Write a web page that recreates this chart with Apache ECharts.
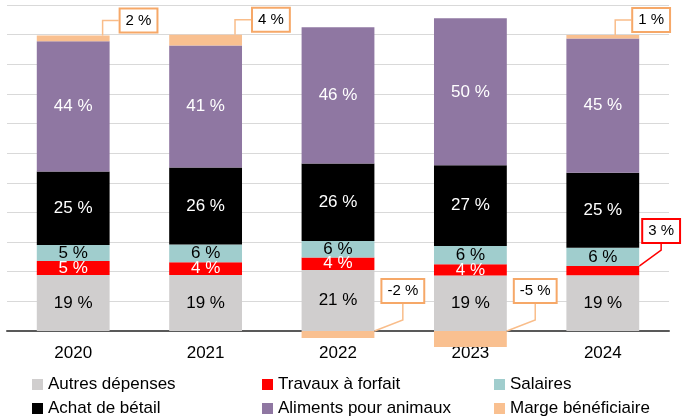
<!DOCTYPE html>
<html lang="fr">
<head>
  <meta charset="UTF-8" />
  <title>Structure des coûts</title>
  <script src="https://cdn.jsdelivr.net/npm/echarts@6/dist/echarts.min.js"></script>
  <style>
    body { margin: 0; background: #fff; }
    #chart { width: 686px; height: 417px; }
  </style>
</head>
<body>
  <div id="chart"></div>
  <script>
    // years and shares (%) per cost item, bottom to top of the stack
    const years = ['2020', '2021', '2022', '2023', '2024'];
    const autresDepenses = [18.9, 18.9, 20.6, 18.7, 18.8];
    const travauxForfait = [4.7, 4.3, 4.2, 3.8, 3.1];
    const salaires = [5.4, 6.0, 5.6, 6.2, 6.2];
    const achatBetail = [24.8, 26.0, 26.1, 27.2, 25.3];
    const alimentsAnimaux = [44.0, 41.1, 46.0, 49.6, 45.3];
    const margeBeneficiaire = [1.9, 3.7, -2.4, -5.4, 1.2];

    const FONT = "'Liberation Sans', Arial, sans-serif";
    const chart = echarts.init(document.getElementById('chart'));

    const pct = p => Math.round(p.value) + ' %';

    function callout(color) {
      return {
        show: true,
        formatter: pct,
        fontFamily: FONT,
        fontSize: 15,
        color: '#000',
        backgroundColor: '#fff',
        borderColor: color,
        borderWidth: 2,
        padding: [4, 5, 3, 5]
      };
    }

    // place callout boxes next to the bar segment
    function calloutLayout(params) {
      const r = params.rect;
      const top = Math.min(r.y, r.y + r.height);
      const right = r.x + r.width;
      const w = params.labelRect.width;
      if (params.seriesIndex === 5) {
        const v = margeBeneficiaire[params.dataIndex];
        if (v < 0) {
          return { x: right + 8, y: top - 40, align: 'left', verticalAlign: 'middle' };
        }
        const x = right + 11 + w > chart.getWidth() - 12 ? right - 6 : right + 11;
        return { x: x, y: top - 15, align: 'left', verticalAlign: 'middle' };
      }
      if (params.seriesIndex === 1 && travauxForfait[params.dataIndex] < 3.5) {
        return { x: right + 4, y: top - 35, align: 'left', verticalAlign: 'middle' };
      }
      return {};
    }

    function inside(color) {
      return { show: true, position: 'inside', formatter: pct, color: color, fontFamily: FONT, fontSize: 17 };
    }

    const series = [
      { name: 'Autres dépenses', color: '#D0CECE', data: autresDepenses, label: inside('#000') },
      {
        name: 'Travaux à forfait', color: '#FF0000', label: inside('#fff'),
        data: travauxForfait.map(v => v < 3.5
          ? { value: v, label: callout('#FF0000'), labelLine: { show: true, length2: 6, lineStyle: { color: '#FF0000', width: 1.5 } } }
          : v)
      },
      { name: 'Salaires', color: '#A0CDCD', data: salaires, label: inside('#000') },
      { name: 'Achat de bétail', color: '#000000', data: achatBetail, label: inside('#fff') },
      { name: 'Aliments pour animaux', color: '#8F77A2', data: alimentsAnimaux, label: inside('#fff') },
      {
        name: 'Marge bénéficiaire', color: '#F9C090', data: margeBeneficiaire,
        label: callout('#F6A868'),
        labelLine: { show: true, length2: 16, lineStyle: { color: '#F9BD8A', width: 1.5 } }
      }
    ].map(s => Object.assign({
      type: 'bar',
      stack: 'total',
      barWidth: '55%',
      clip: false,
      itemStyle: { color: s.color },
      labelLayout: calloutLayout
    }, s));

    // legend: 3 columns x 2 rows
    const legendNames = [
      'Autres dépenses', 'Travaux à forfait', 'Salaires',
      'Achat de bétail', 'Aliments pour animaux', 'Marge bénéficiaire'
    ];
    const legendLeft = [32, 262, 494];
    const legendTop = [376, 400];

    chart.setOption({
      animation: false,
      textStyle: { fontFamily: FONT },
      grid: { left: 7, right: 17, top: 5, bottom: 86 },
      legend: legendNames.map((name, i) => ({
        data: [name],
        left: legendLeft[i % 3],
        top: legendTop[Math.floor(i / 3)],
        padding: 0,
        itemWidth: 11,
        itemHeight: 11,
        icon: 'rect',
        selectedMode: false,
        textStyle: { fontFamily: FONT, fontSize: 17, color: '#000' }
      })),
      xAxis: {
        type: 'category',
        data: years,
        axisTick: { show: false },
        axisLine: { lineStyle: { color: '#595959', width: 2 } },
        axisLabel: { color: '#000', fontFamily: FONT, fontSize: 17, margin: 14 }
      },
      yAxis: {
        type: 'value',
        min: 0,
        max: 110,
        interval: 10,
        axisLabel: { show: false },
        axisLine: { show: false },
        axisTick: { show: false },
        splitLine: { lineStyle: { color: '#D9D9D9', width: 1 } }
      },
      series: series
    });
  </script>
</body>
</html>
